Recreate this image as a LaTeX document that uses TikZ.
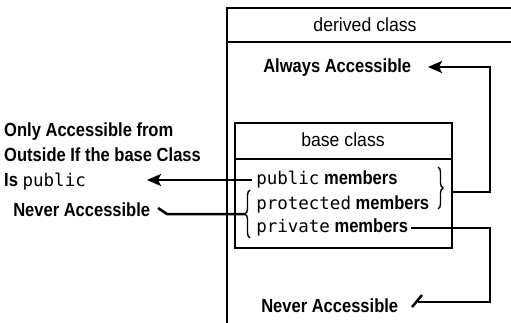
\documentclass[tikz,border=0pt]{standalone}
\usepackage{fontspec}
\setmainfont{Liberation Sans}[FakeStretch=0.87]
\newfontfamily\hdrfont{Liberation Sans}[FakeStretch=0.93]
\setmonofont{DejaVu Sans Mono}
\usetikzlibrary{arrows.meta,decorations.pathreplacing}
\begin{document}
\begin{tikzpicture}[x=1pt,y=-1pt, line width=2.5pt, line cap=butt,
 lbl/.style={font=\fontsize{19}{25}\selectfont\bfseries, inner sep=0pt, anchor=base west},
 hdr/.style={font=\fontsize{19}{25}\selectfont\hdrfont, inner sep=0pt, anchor=base},
 arr/.style={-{Stealth[length=14pt,width=12pt,inset=3pt]}},
 brc/.style={decorate, decoration={brace,amplitude=5pt}, line width=1.4pt}]
\useasboundingbox (0,0) rectangle (511,323);
% derived class box
\draw (520,8) -- (227,8) -- (227,330);
\draw (227,42) -- (520,42);
\node[hdr] (dhead) at (365,32) {derived class};
% base class box
\draw (235,123) rectangle (452,248);
\draw (235,159) -- (452,159);
\node[hdr] (bhead) at (343,147) {base class};
% members
\node[lbl] (pub) at (255,185) {{\fontsize{17.5}{25}\selectfont\mdseries\ttfamily public} members};
\node[lbl] (pro) at (255,209) {{\fontsize{17.5}{25}\selectfont\mdseries\ttfamily protected} members};
\node[lbl] (pri) at (255,233) {{\fontsize{17.5}{25}\selectfont\mdseries\ttfamily private} members};
% braces
\draw[brc] (250,238) -- (250,190);
\draw[brc] (438,167) -- (438,209);
\coordinate (lbtip) at (245,214);
\coordinate (rbout) at (452,192);
% labels
\node[lbl] (always) at (262,73) {Always Accessible};
\node[lbl, align=left, anchor=north west] (outside) at (3,121) {Only Accessible from\\Outside If the base Class\\Is {\fontsize{17.5}{25}\selectfont\mdseries\ttfamily public}};
\node[lbl] (never1) at (12,216) {Never Accessible};
\node[lbl] (never2) at (260,312) {Never Accessible};
% connectors
\coordinate (alwaysend) at (428,67);
\draw[arr] (rbout) -| (490,67) -- (alwaysend);
\draw[arr] ([xshift=-3pt]pub.west |- 0,180) -- (147,180);
\coordinate (n1end) at (167,214);
\draw[line join=miter] (lbtip) -- (n1end) -- (158,208);
\coordinate (n2end) at (418,302);
\draw ([xshift=2pt]pri.east |- 0,228) -| (490,302) -- (n2end);
\draw (412,307) -- (422,295);
\end{tikzpicture}
\end{document}
